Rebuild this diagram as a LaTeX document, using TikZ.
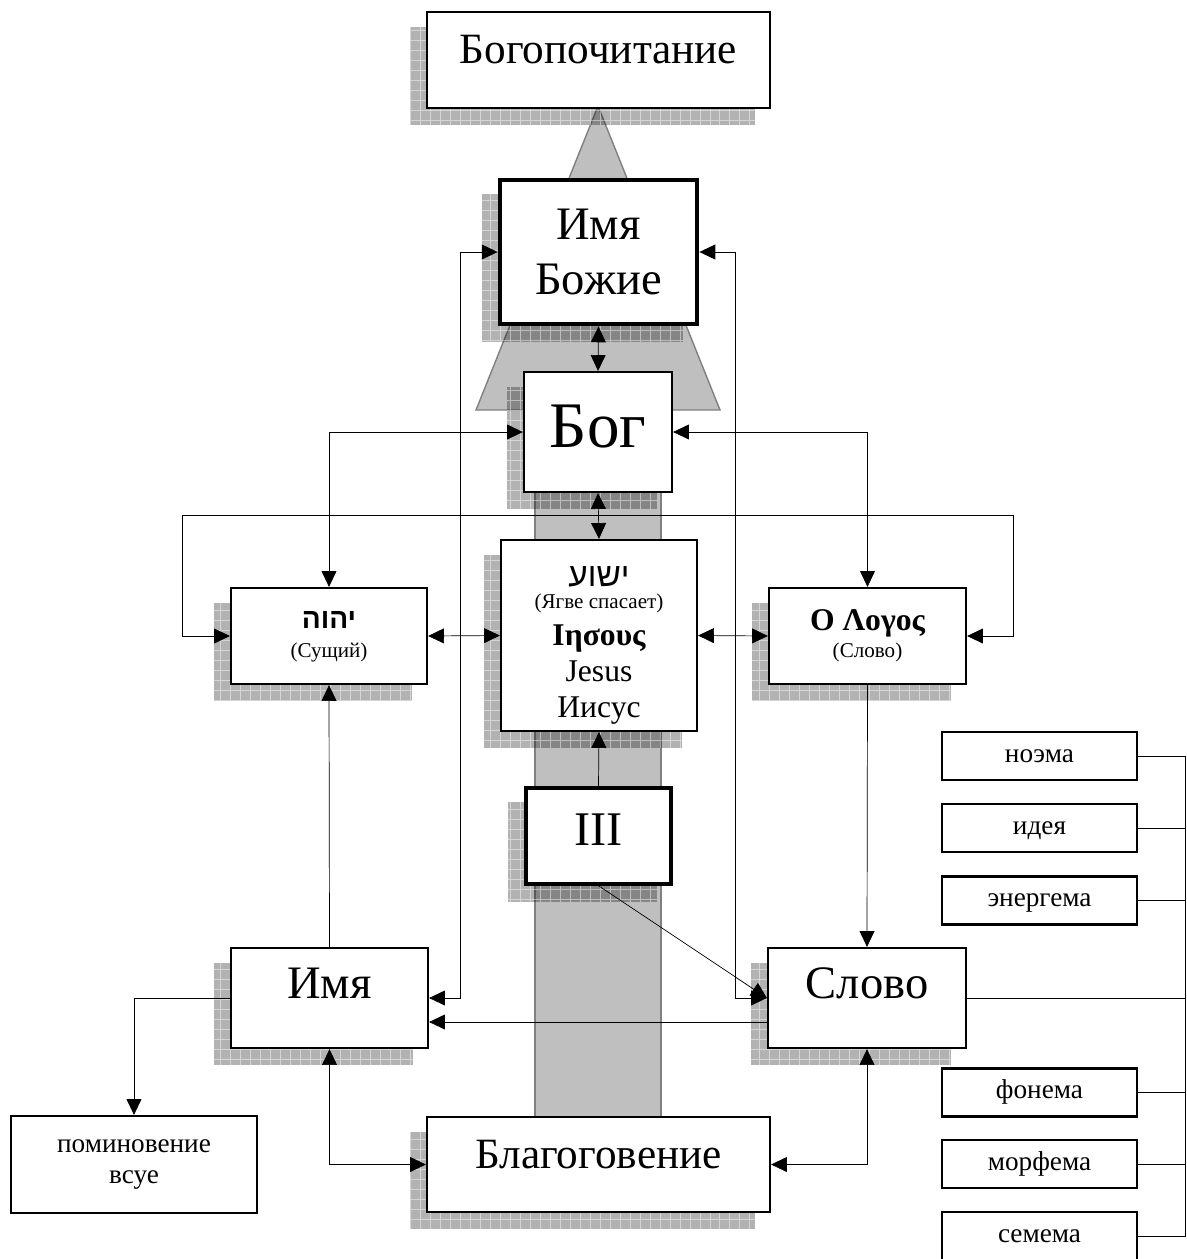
\documentclass[tikz,border=0pt]{standalone}
\usepackage{fontspec}
\setmainfont{Liberation Serif}
\newfontfamily\hebfont[Script=Hebrew]{Liberation Sans}
\TeXXeTstate=1
\usepackage{tikz}
\usetikzlibrary{arrows.meta,calc,positioning}
\pgfdeclarelayer{background}
\pgfsetlayers{background,main}

\newcommand{\fsz}[2]{\fontsize{#1}{#2}\selectfont}
\newcommand{\boxshadow}[1]{%
    \fill[shadowfill] ($(#1.south west)+(-16,16)$) rectangle ($(#1.north east)+(-16,16)$);
    \draw[shadowgrid] ($(#1.south west)+(-16,16)$) grid ($(#1.north east)+(-16,16)$);
}

\tikzset{
    box/.style={draw, fill=white, line width=1.3pt, inner sep=0pt, align=center},
    thickbox/.style={line width=#1},
    smallbox/.style={box, minimum width=3.9cm, text height=0.6cm, text depth=0.36cm, font=\fsz{15.5}{18}},
    shadowfill/.style={fill=black, fill opacity=0.3},
    shadowgrid/.style={draw=white, draw opacity=0.45, line width=0.4pt, step=0.2cm},
    pillar/.style={fill=gray!50, draw=gray, line width=0.8pt},
    dbl/.style={<->},
    one/.style={->},
}

\begin{document}
\begin{tikzpicture}[x=0.02cm, y=-0.02cm, line width=1.3pt, >={Triangle[length=9pt,width=8.5pt]}]
    \useasboundingbox (0,0) rectangle (1187,1259);

    \node[box, minimum width=6.86cm, text height=1.02cm, text depth=0.9cm, font=\fsz{24.6}{29}] (worship) at (598.5,60) {Богопочитание};
    \node[box, thickbox=2.8pt, minimum width=3.94cm, minimum height=2.88cm, font=\fsz{26.5}{31.7}] (godname) at (598.5,252) {Имя\\Божие};
    \node[box, minimum width=2.96cm, text height=1.5cm, text depth=0.9cm, font=\fsz{37}{40}] (god) at (598,432) {Бог};

    \node[box, minimum width=3.92cm, text height=3.56cm, text depth=0.26cm, font=\fsz{12}{20}] (jesus) at (599,635.5) {%
        \hebfont\fsz{19}{20}\beginR ישוע\endR\\[-7.5pt]
        \rmfamily\mdseries\fsz{12}{20}(Ягве спасает)\\[1pt]
        \rmfamily\bfseries\fsz{18}{20}Ιησους\\[1pt]
        \rmfamily\mdseries\fsz{18}{20}Jesus\\[0.5pt]
        \rmfamily\mdseries\fsz{18}{20}Иисус};
    \node[box, minimum width=3.92cm, text height=1.38cm, text depth=0.54cm, font=\fsz{12}{17.6}] (yhwh) at (329,636) {\hebfont\bfseries\fsz{16}{19}\beginR יהוה\endR\\[-1.2pt]\rmfamily\mdseries\fsz{12}{17.6}(Сущий)};
    \node[box, minimum width=3.94cm, minimum height=1.92cm, font=\fsz{12}{15.3}] (logos) at (867.5,636) {\bfseries\fsz{18}{20}Ο Λογος\\\mdseries\fsz{12}{15.3}(Слово)};

    \node[box, thickbox=1.9pt, minimum width=2.9cm, text height=1.14cm, text depth=0.78cm, font=\fsz{27.5}{30}] (three) at (598.5,836) {III};

    \node[box, minimum width=3.94cm, text height=1cm, text depth=1cm, font=\fsz{26.5}{30}] (onoma) at (329.5,998) {Имя};
    \node[box, minimum width=3.96cm, text height=1cm, text depth=1cm, font=\fsz{26.5}{30}] (word) at (867,998) {Слово};
    \node[box, minimum width=6.86cm, text height=1.02cm, text depth=0.88cm, font=\fsz{24.6}{29}] (awe) at (598.5,1164.5) {Благоговение};
    \node[box, minimum width=4.92cm, minimum height=1.94cm, font=\fsz{15.5}{18}] (vain) at (134,1164.5) {поминовение\\всуе};

    \node[smallbox] (noema) at (1039.5,756) {ноэма};
    \node[smallbox] (idea) at (1039.5,828) {идея};
    \node[smallbox] (energema) at (1039.5,900.5) {энергема};
    \node[smallbox] (phoneme) at (1039.5,1092.5) {фонема};
    \node[smallbox] (morpheme) at (1039.5,1164) {морфема};
    \node[smallbox] (sememe) at (1039.5,1236) {семема};

    \begin{pgfonlayer}{background}
        \draw[pillar] (598,106) -- (476,410) -- (720,410) -- cycle;
        \draw[pillar] (535,492) rectangle (661,1117);
        \foreach \n in {worship,godname,god,jesus,yhwh,logos,three,onoma,word,awe} {\boxshadow{\n}}
    \end{pgfonlayer}

    \coordinate (loopL) at (182,515);
    \coordinate (loopR) at (1013,515);
    \coordinate (rb) at (1185,0);

    \draw[dbl] (godname.south) -- (god.north);
    \draw[dbl] (god.south) -- (jesus.north);
    \draw[dbl] (yhwh.north) |- (god.west);
    \draw[dbl] (logos.north) |- (god.east);
    \draw[dbl] (yhwh.west) -| (loopL) -- (loopR) |- (logos.east);
    \draw[dbl] (yhwh.east) -- (jesus.west);
    \draw[dbl] (jesus.east) -- (logos.west);
    \draw[one] (three.north) -- (jesus.south);
    \draw[one] (three.south) -- (word.west);
    \draw[dbl] (godname.west) -- ++(-37,0) |- (onoma.east);
    \draw[dbl] (godname.east) -- ++(36,0) |- (word.west);
    \draw[one] ($(word.west)+(0,24)$) -- ($(onoma.east)+(0,24)$);
    \draw[one] (logos.south) -- (word.north);
    \draw[one] (onoma.north) -- (yhwh.south);
    \draw[one] (onoma.west) -| (vain.north);
    \draw[dbl] (onoma.south) |- (awe.west);
    \draw[dbl] (word.south) |- (awe.east);

    \draw (noema.east) -| (rb |- sememe.east) -- (sememe.east);
    \foreach \n in {idea,energema,word,phoneme,morpheme} {\draw (\n.east) -- (\n.east -| rb);}
\end{tikzpicture}
\end{document}
